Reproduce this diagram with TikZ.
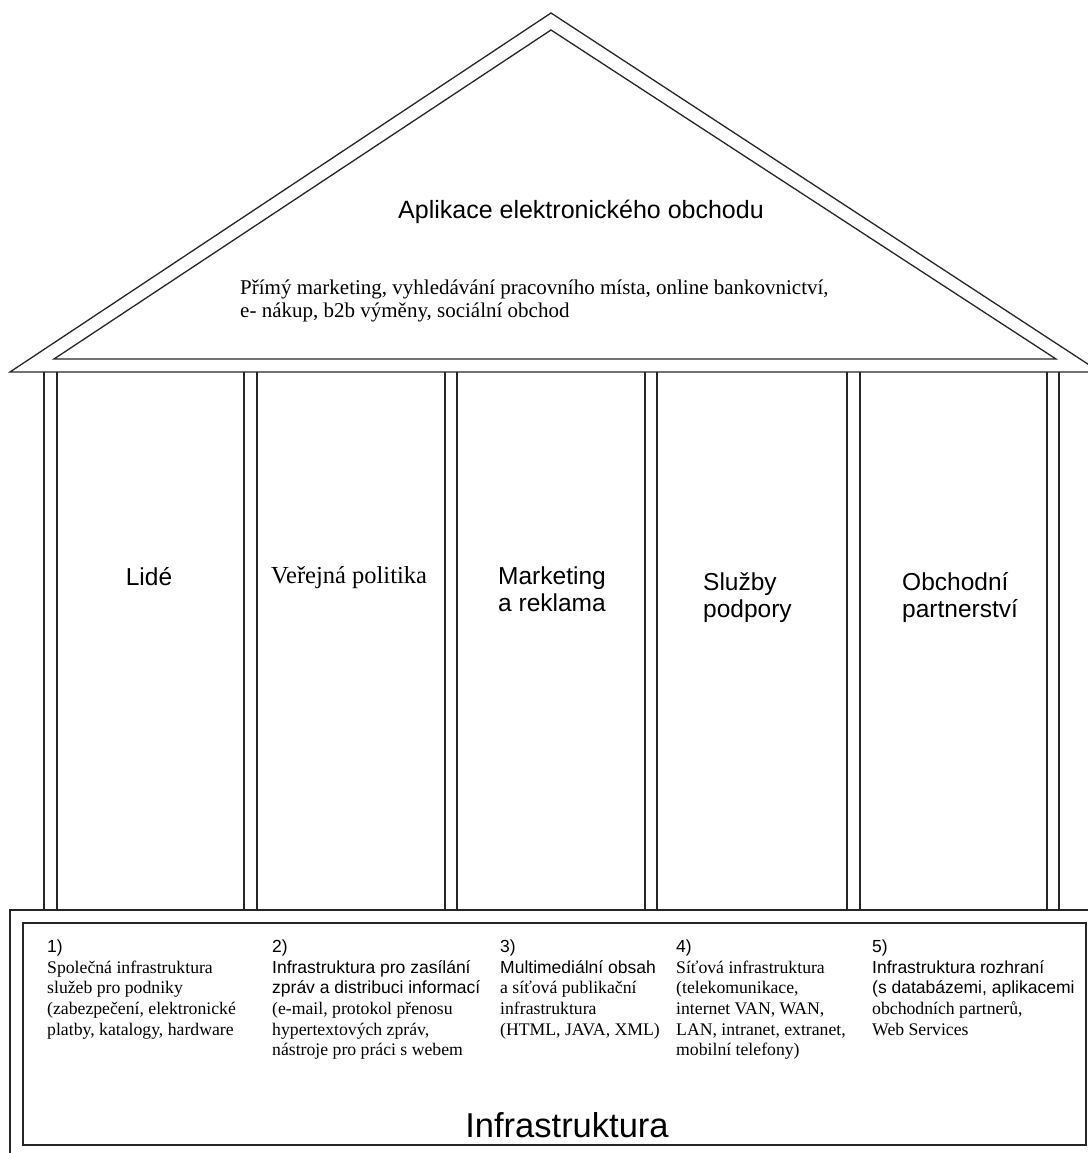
\documentclass[tikz,border=0pt]{standalone}
\usepackage{fontspec}
\setmainfont{Liberation Serif}
\setsansfont{Liberation Sans}
\begin{document}
\begin{tikzpicture}[x=1pt,y=-1pt,
  edge/.style={line width=1.3pt,draw=black!85,line join=miter},
  basesans/.style={font=\sffamily\fontsize{17.5}{20}\selectfont,inner sep=0pt,anchor=base west},
  baseserif/.style={font=\rmfamily\fontsize{17.7}{20}\selectfont,inner sep=0pt,anchor=base west},
  pilsans/.style={font=\sffamily\fontsize{24.5}{28}\selectfont,inner sep=0pt,anchor=base west},
  pilserif/.style={font=\rmfamily\fontsize{24.5}{28}\selectfont,inner sep=0pt,anchor=base west},
  topserif/.style={font=\rmfamily\fontsize{21}{23}\selectfont,inner sep=0pt,anchor=base west}]
\useasboundingbox (0,0) rectangle (1087,1153);
% roof
\draw[edge] (10,372) -- (551,13) -- (1100,372) -- cycle;
\draw[edge] (54,359) -- (551,30) -- (1056,359) -- cycle;
% pillars
\foreach \px in {44,57,244,257,445,457,645,657,847,860,1047,1059}
  \draw[edge] (\px,372) -- (\px,910);
% base
\draw[edge] (10,910) rectangle (1100,1162);
\draw[edge] (23,923) rectangle (1086,1145);
% roof text
\node[font=\sffamily\fontsize{25}{28}\selectfont,inner sep=0pt,anchor=base] (title) at (581,218) {Aplikace elektronického obchodu};
\node[topserif] (apps1) at (240,294) {Přímý marketing, vyhledávání pracovního místa, online bankovnictví,};
\node[topserif] (apps2) at (240,317) {e- nákup, b2b výměny, sociální obchod};
% pillar labels
\node[pilsans,anchor=base] (p1) at (149,585) {Lidé};
\node[pilserif] (p2) at (271,583) {Veřejná politika};
\node[pilsans] (p3a) at (498,584) {Marketing};
\node[pilsans] (p3b) at (498,611) {a reklama};
\node[pilsans] (p4a) at (703,590) {Služby};
\node[pilsans] (p4b) at (703,617) {podpory};
\node[pilsans] (p5a) at (902,590) {Obchodní};
\node[pilsans] (p5b) at (902,617) {partnerství};
% base column 1
\node[basesans] (c1n) at (47,952) {1)};
\node[baseserif] (c1a) at (47,973) {Společná infrastruktura};
\node[baseserif] (c1b) at (47,993.7) {služeb pro podniky};
\node[baseserif] (c1c) at (47,1014.4) {(zabezpečení, elektronické};
\node[baseserif] (c1d) at (47,1035) {platby, katalogy, hardware};
% column 2
\node[basesans] (c2n) at (272,952) {2)};
\node[basesans] (c2a) at (272,973) {Infrastruktura pro zasílání};
\node[basesans] (c2b) at (272,993.7) {zpráv a distribuci informací};
\node[baseserif] (c2c) at (272,1014.4) {(e-mail, protokol přenosu};
\node[baseserif] (c2d) at (272,1035) {hypertextových zpráv,};
\node[baseserif] (c2e) at (272,1055.7) {nástroje pro práci s webem};
% column 3
\node[basesans] (c3n) at (500,952) {3)};
\node[basesans] (c3a) at (500,973) {Multimediální obsah};
\node[baseserif] (c3b) at (500,993.7) {a síťová publikační};
\node[baseserif] (c3c) at (500,1014.4) {infrastruktura};
\node[baseserif] (c3d) at (500,1035) {(HTML, JAVA, XML)};
% column 4
\node[basesans] (c4n) at (676,952) {4)};
\node[baseserif] (c4a) at (676,973) {Síťová infrastruktura};
\node[baseserif] (c4b) at (676,993.7) {(telekomunikace,};
\node[baseserif] (c4c) at (676,1014.4) {internet VAN, WAN,};
\node[baseserif] (c4d) at (676,1035) {LAN, intranet, extranet,};
\node[baseserif] (c4e) at (676,1055.7) {mobilní telefony)};
% column 5
\node[basesans] (c5n) at (872,952) {5)};
\node[basesans] (c5a) at (872,973) {Infrastruktura rozhraní};
\node[basesans] (c5b) at (872,993.7) {(s databázemi, aplikacemi};
\node[baseserif] (c5c) at (872,1014.4) {obchodních partnerů,};
\node[baseserif] (c5d) at (872,1035) {Web Services};
% base title
\node[font=\sffamily\fontsize{34.5}{38}\selectfont,inner sep=0pt,anchor=base] (infra) at (567,1137) {Infrastruktura};
\end{tikzpicture}
\end{document}
